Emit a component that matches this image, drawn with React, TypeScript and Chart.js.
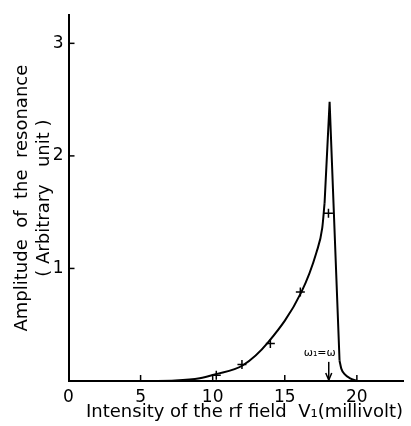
import React, { useEffect, useRef } from "react";
import { Chart, registerables } from "chart.js";

Chart.register(...registerables);

// Smooth rising branch of the resonance curve (x: mV, y: amplitude)
const curveX = [5.6, 7.4, 9.1, 10.14, 12.1, 13.84, 16.15, 17.19, 17.6, 17.76];
const curveY = [0, 0.004, 0.024, 0.058, 0.14, 0.343, 0.79, 1.14, 1.36, 1.58];
// Sharp peak (straight segments)
const peakX = [17.76, 18.11, 18.8];
const peakY = [1.58, 2.48, 0.18];
// Tail after the drop
const tailX = [18.8, 18.92, 19.15, 19.5, 20.05];
const tailY = [0.18, 0.11, 0.061, 0.026, 0];
// Measured points (+)
const markX = [10.25, 12.03, 14.0, 16.08, 18.03];
const markY = [0.05, 0.146, 0.334, 0.79, 1.49];
// Annotation
const arrowX = 18.05;
const arrowTop = 0.17;
const annotationText = "ω₁=ω";

const xTicks = [0, 5, 10, 15, 20];
const yTicks = [1, 2, 3];
const xMax = 23.2;
const yMax = 3.25;

const FONT = "'DejaVu Sans', sans-serif";

const toPts = (xs: number[], ys: number[]) => xs.map((x, i) => ({ x, y: ys[i] }));

export default function App() {
  const ref = useRef<HTMLCanvasElement | null>(null);
  useEffect(() => {
    if (!ref.current) return;
    const decor = {
      id: "decor",
      afterDraw(chart: any) {
        const { ctx, chartArea, scales } = chart;
        const xs = scales.x;
        const ys = scales.y;
        ctx.save();
        ctx.strokeStyle = "#000";
        ctx.lineWidth = 1.5;
        // inward tick marks
        xTicks.forEach((v) => {
          if (v === 0) return;
          const px = xs.getPixelForValue(v);
          ctx.beginPath();
          ctx.moveTo(px, chartArea.bottom);
          ctx.lineTo(px, chartArea.bottom - 6);
          ctx.stroke();
        });
        yTicks.forEach((v) => {
          const py = ys.getPixelForValue(v);
          ctx.beginPath();
          ctx.moveTo(chartArea.left, py);
          ctx.lineTo(chartArea.left + 6, py);
          ctx.stroke();
        });
        // arrow
        const ax = xs.getPixelForValue(arrowX);
        const at = ys.getPixelForValue(arrowTop);
        const ab = ys.getPixelForValue(0);
        ctx.beginPath();
        ctx.moveTo(ax, at);
        ctx.lineTo(ax, ab - 1);
        ctx.stroke();
        ctx.beginPath();
        ctx.moveTo(ax - 3, ab - 8);
        ctx.lineTo(ax, ab - 1);
        ctx.lineTo(ax + 3, ab - 8);
        ctx.stroke();
        ctx.fillStyle = "#000";
        ctx.font = "11px " + FONT;
        ctx.textAlign = "right";
        ctx.textBaseline = "bottom";
        ctx.fillText(annotationText, ax + 7, at - 3);
        ctx.restore();
      },
    };
    const chart = new Chart(ref.current, {
      type: "scatter",
      data: {
        datasets: [
          {
            data: toPts(curveX, curveY),
            showLine: true,
            borderColor: "#000",
            borderWidth: 2,
            pointRadius: 0,
            cubicInterpolationMode: "monotone",
          },
          {
            data: toPts(peakX, peakY),
            showLine: true,
            borderColor: "#000",
            borderWidth: 2,
            pointRadius: 0,
            tension: 0,
          },
          {
            data: toPts(tailX, tailY),
            showLine: true,
            borderColor: "#000",
            borderWidth: 2,
            pointRadius: 0,
            cubicInterpolationMode: "monotone",
          },
          {
            data: toPts(markX, markY),
            showLine: false,
            pointStyle: "cross",
            pointRadius: 4.5,
            borderColor: "#000",
            borderWidth: 1.5,
            backgroundColor: "#000",
          },
        ],
      } as any,
      options: {
        animation: false,
        responsive: false,
        layout: { padding: { top: 8, right: 8, left: 0, bottom: 0 } },
        plugins: { legend: { display: false }, tooltip: { enabled: false } },
        scales: {
          x: {
            type: "linear",
            min: 0,
            max: xMax,
            afterFit: (s: any) => {
              s.height = 45;
            },
            afterBuildTicks: (s: any) => {
              s.ticks = xTicks.map((v) => ({ value: v }));
            },
            grid: { display: false, drawTicks: false },
            border: { display: true, color: "#000", width: 2 },
            ticks: {
              color: "#000",
              padding: 6,
              font: { family: FONT, size: 17 },
              maxRotation: 0,
              autoSkip: false,
            },
            title: {
              display: true,
              text: "Intensity of the rf field  V₁(millivolt)",
              align: "end",
              color: "#000",
              font: { family: FONT, size: 18 },
              padding: { top: 0, bottom: 3 },
            },
          },
          y: {
            type: "linear",
            min: 0,
            max: yMax,
            afterFit: (s: any) => {
              s.width = 68.5;
            },
            afterBuildTicks: (s: any) => {
              s.ticks = yTicks.map((v) => ({ value: v }));
            },
            grid: { display: false, drawTicks: false },
            border: { display: true, color: "#000", width: 2 },
            ticks: {
              color: "#000",
              padding: 5,
              font: { family: FONT, size: 17 },
              autoSkip: false,
            },
            title: {
              display: true,
              text: ["Amplitude  of  the  resonance", "( Arbitrary   unit )"],
              color: "#000",
              font: { family: FONT, size: 18 },
              padding: { top: 12, bottom: 0 },
            },
          },
        },
      } as any,
      plugins: [decor],
    });
    return () => chart.destroy();
  }, []);
  return (
    <div style={{ position: "absolute", left: 0, top: 0, width: 411, height: 426, background: "#fff" }}>
      <canvas ref={ref} width={411} height={426} style={{ display: "block" }} />
    </div>
  );
}
